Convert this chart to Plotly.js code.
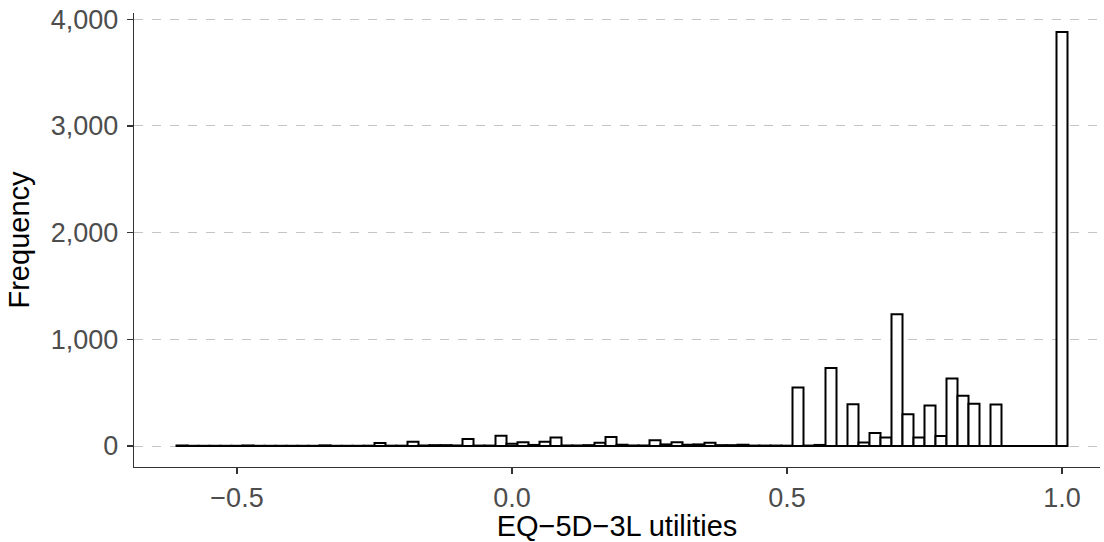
<!DOCTYPE html>
<html>
<head>
<meta charset="utf-8">
<script src="https://cdn.plot.ly/plotly-3.0.1.min.js"></script>
<style>html,body{margin:0;padding:0;background:#fff;}#chart{width:1104px;height:542px;}</style>
</head>
<body>
<div id="chart"></div>
<script>
// Bin centres of the EQ-5D-3L utility histogram (bin width 0.02)
const binCenters = [
  -0.60,-0.58,-0.56,-0.54,-0.52,-0.50,-0.48,-0.46,-0.44,-0.42,
  -0.40,-0.38,-0.36,-0.34,-0.32,-0.30,-0.28,-0.26,-0.24,-0.22,
  -0.20,-0.18,-0.16,-0.14,-0.12,-0.10,-0.08,-0.06,-0.04,-0.02,
   0.00, 0.02, 0.04, 0.06, 0.08, 0.10, 0.12, 0.14, 0.16, 0.18,
   0.20, 0.22, 0.24, 0.26, 0.28, 0.30, 0.32, 0.34, 0.36, 0.38,
   0.40, 0.42, 0.44, 0.46, 0.48, 0.50, 0.52, 0.54, 0.56, 0.58,
   0.60, 0.62, 0.64, 0.66, 0.68, 0.70, 0.72, 0.74, 0.76, 0.78,
   0.80, 0.82, 0.84, 0.86, 0.88, 0.90, 0.92, 0.94, 0.96, 0.98,
   1.00
];
const binWidth = 0.02;
// Frequencies
const frequency = [
    5,   2,   2,   2,   2,   2,   5,   2,   2,   2,
    2,   2,   2,   6,   2,   2,   2,   3,  28,   3,
    3,  40,   5,   8,   8,   5,  65,   4,   4,  97,
   20,  35,  10,  40,  80,   5,   5,   8,  30,  85,
   12,   5,   5,  55,  15,  35,  12,  15,  30,   8,
    8,  12,   4,   4,   4,   3, 548,   4,  10, 732,
    0, 391,  32, 122,  79,1234, 297,  79, 379,  94,
  632, 472, 397,   0, 388,   0,   0,   0,   0,   0,
 3880
];
const xTickVals = [-0.5, 0.0, 0.5, 1.0];
const xTickText = ['\u22120.5', '0.0', '0.5', '1.0'];
const yTickVals = [0, 1000, 2000, 3000, 4000];
const yTickText = ['0', '1,000', '2,000', '3,000', '4,000'];

const firstEdge = binCenters[0] - binWidth / 2;
const lastEdge = binCenters[binCenters.length - 1] + binWidth / 2;

const bars = {
  type: 'bar',
  x: binCenters,
  y: frequency,
  width: binCenters.map(() => binWidth),
  marker: {color: '#ffffff', line: {color: '#000000', width: 2}},
  hoverinfo: 'x+y',
  showlegend: false
};
const baseline = {
  type: 'scatter',
  mode: 'lines',
  x: [firstEdge, lastEdge],
  y: [0, 0],
  line: {color: '#000000', width: 2.2},
  hoverinfo: 'skip',
  showlegend: false
};

const tickFont = {family: 'Liberation Sans, Arial, sans-serif', size: 27, color: '#4d4d4d'};
const titleFont = {family: 'Liberation Sans, Arial, sans-serif', size: 29, color: '#000000'};

const layout = {
  width: 1104, height: 542,
  margin: {l: 134, r: 4, t: 13, b: 75, pad: 0},
  paper_bgcolor: '#ffffff', plot_bgcolor: '#ffffff',
  bargap: 0,
  xaxis: {
    range: [-0.6873, 1.0691],
    tickvals: xTickVals, ticktext: xTickText,
    showgrid: false, zeroline: false,
    showline: true, linecolor: '#333333', linewidth: 1.3,
    ticks: 'outside', ticklen: 6, tickwidth: 1.3, tickcolor: '#333333',
    tickfont: tickFont,
    title: {text: 'EQ\u22125D\u22123L utilities', font: titleFont, standoff: 3},
    automargin: false
  },
  yaxis: {
    range: [-196.8, 4058],
    tickvals: yTickVals, ticktext: yTickText,
    showgrid: true, gridcolor: '#c4c4c4', gridwidth: 1, griddash: 'dash',
    zeroline: false,
    showline: true, linecolor: '#333333', linewidth: 1.3,
    ticks: 'outside', ticklen: 6, tickwidth: 1.3, tickcolor: '#333333',
    tickfont: tickFont,
    ticklabelstandoff: 3,
    title: {text: 'Frequency', font: titleFont, standoff: 12},
    automargin: false
  }
};

Plotly.newPlot('chart', [bars, baseline], layout, {staticPlot: true, displayModeBar: false});
</script>
</body>
</html>
